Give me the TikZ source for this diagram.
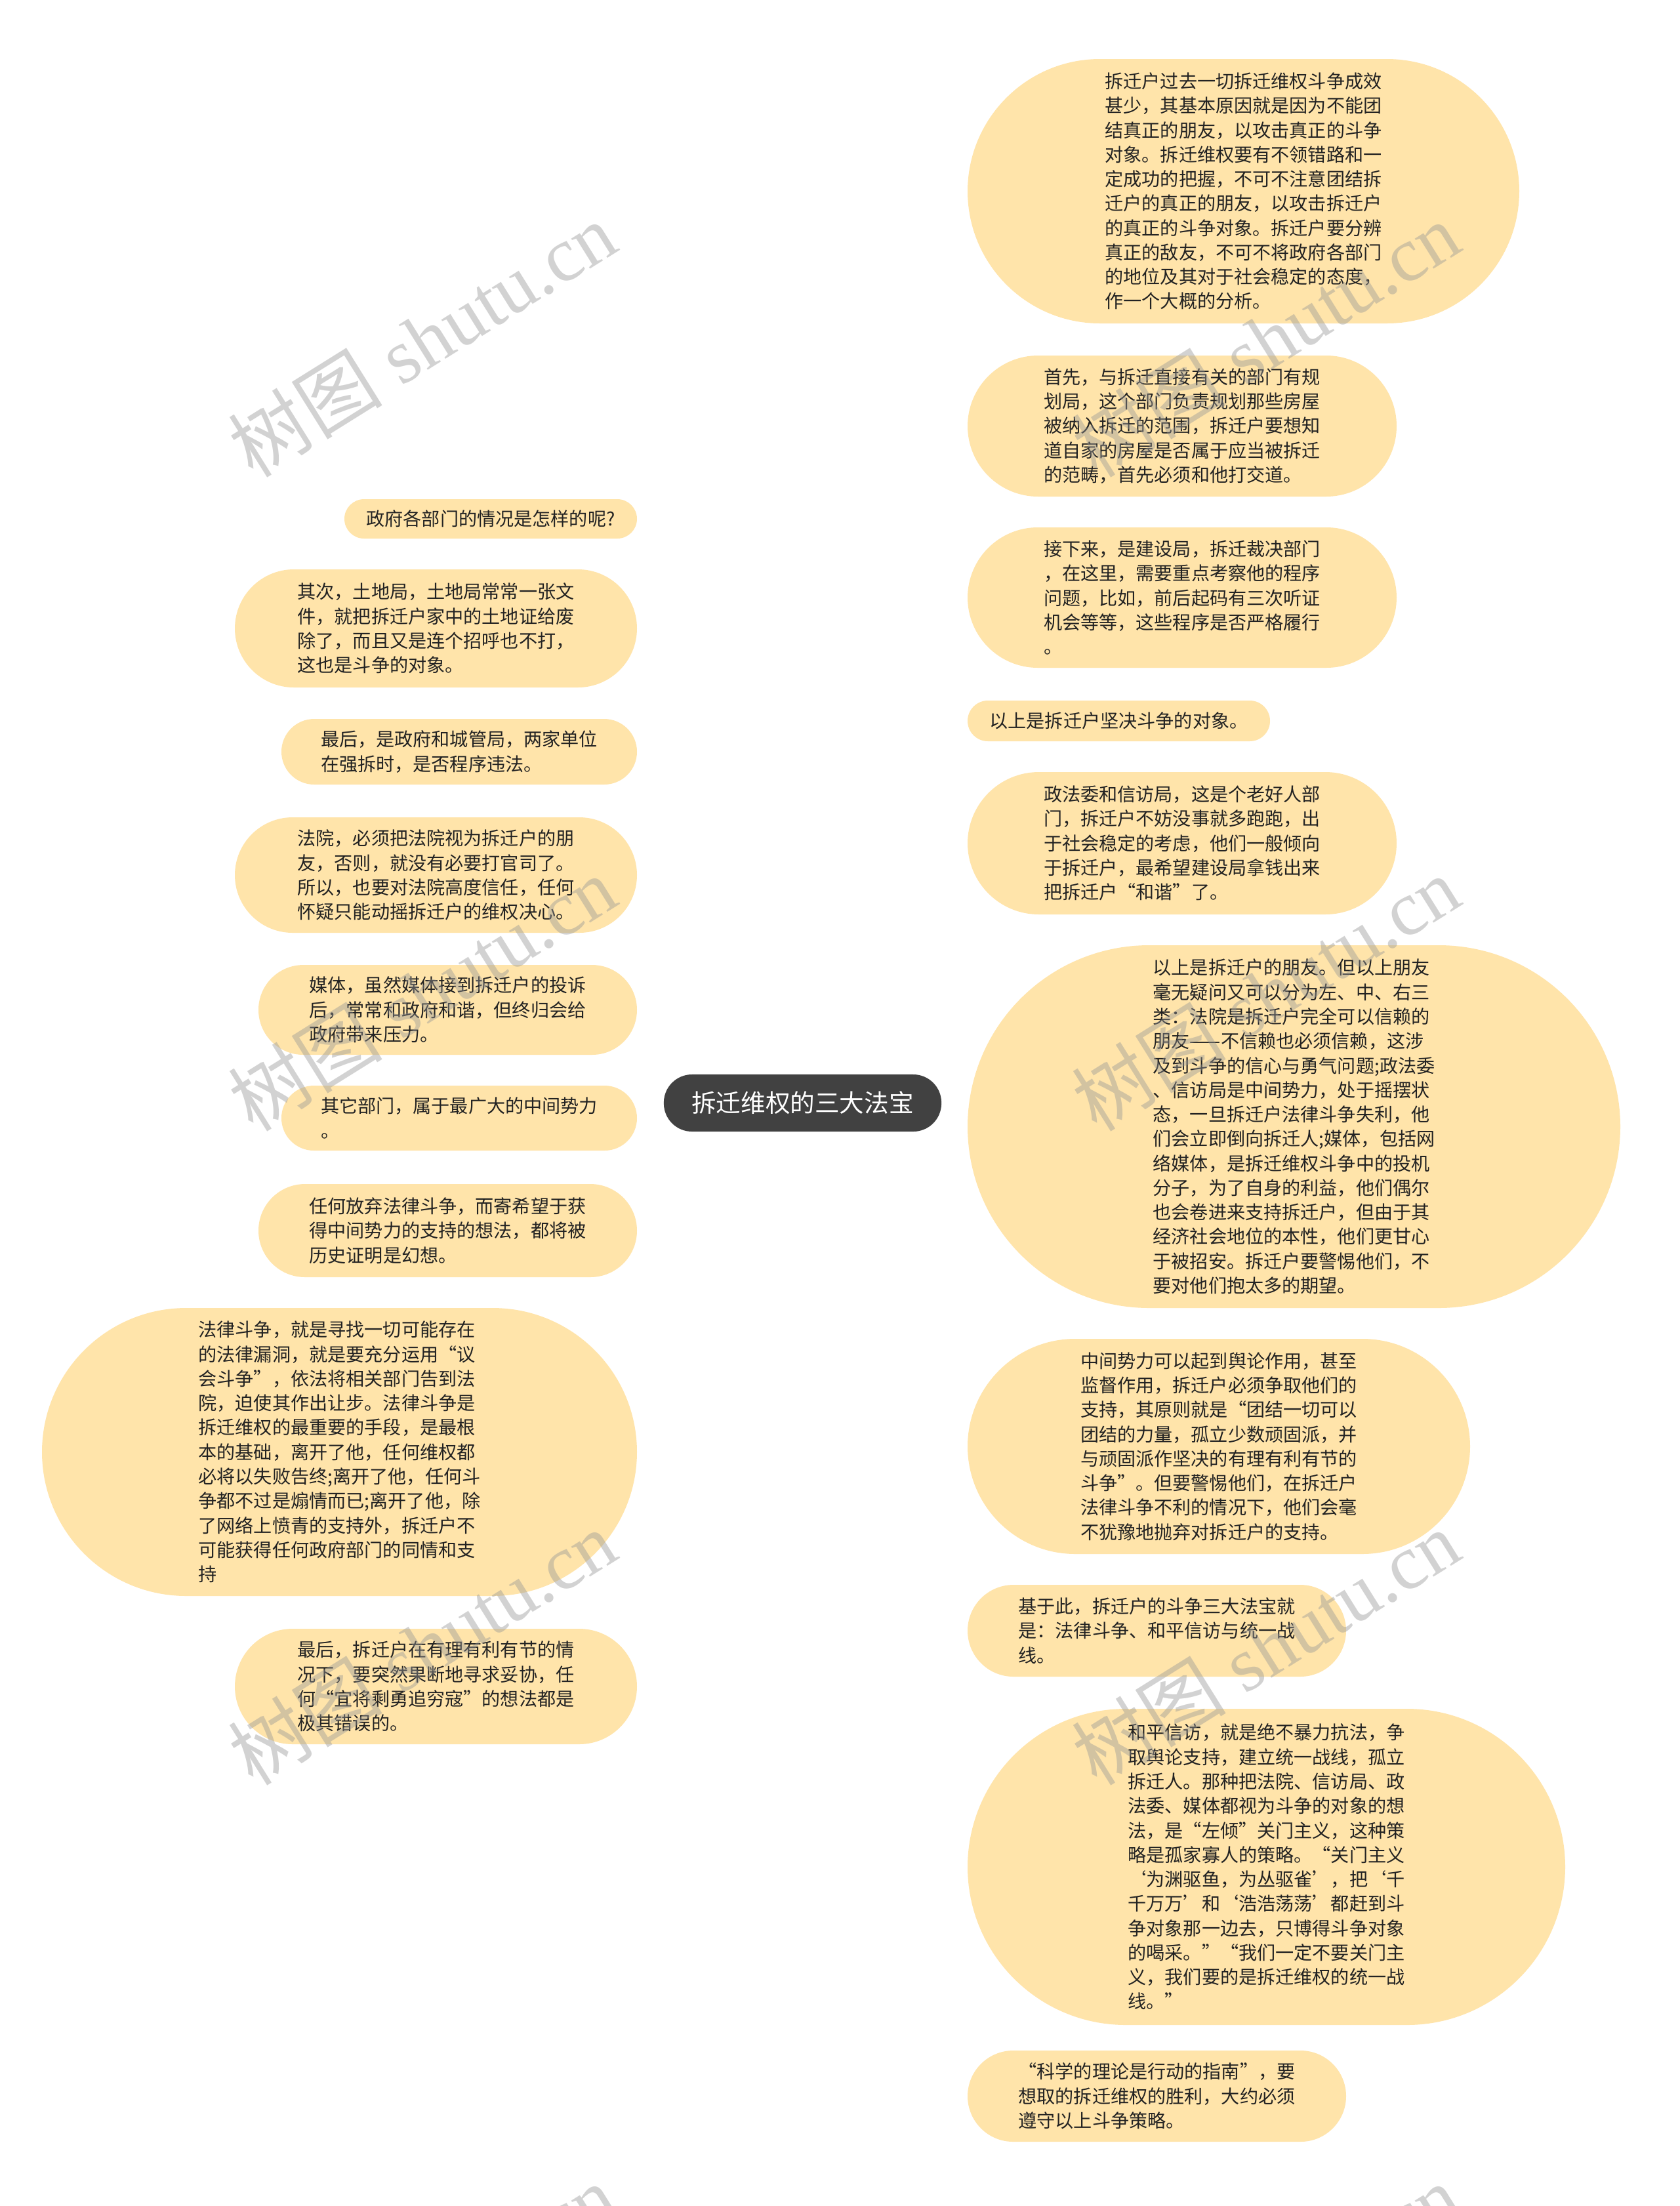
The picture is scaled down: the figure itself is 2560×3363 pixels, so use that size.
\documentclass[tikz,border=0pt]{standalone}
\usepackage{fontspec}
\newfontfamily\cjk{Noto Sans CJK SC}
\newfontfamily\wmserif{Liberation Serif}
\usetikzlibrary{calc}
\definecolor{leafc}{RGB}{255,228,170}
\definecolor{rootc}{RGB}{65,65,65}
\definecolor{edgec}{RGB}{80,80,80}
\definecolor{txtc}{RGB}{34,34,34}
\definecolor{wmc}{RGB}{150,150,150}
\pgfdeclarelayer{background}
\pgfdeclarelayer{foreground}
\pgfsetlayers{background,main,foreground}
\begin{document}
\begin{tikzpicture}[x=0.01cm,y=-0.01cm,
  leaf/.style 2 args={fill=leafc, draw=none, inner sep=0pt, align=left, text=txtc,
    font=\cjk\fontsize{8pt}{10.6pt}\selectfont,
    minimum width=#1*0.01cm, minimum height=#2*0.01cm, rounded corners=#2*0.005cm-0.02pt},
  rootbox/.style={fill=rootc, draw=none, inner sep=0pt, text=white,
    font=\cjk\fontsize{10.7pt}{12pt}\selectfont,
    minimum width=4.23cm, minimum height=0.87cm, rounded corners=0.43cm},
  edge/.style={draw=edgec, line width=0.63pt},
  wm/.style={text=wmc, text opacity=0.42, inner sep=0pt, font=\fontsize{33.5pt}{38pt}\selectfont}]
\useasboundingbox[fill=white] (0,0) rectangle (2560,3363);

\node[rootbox] (root) at (1223.5,1681.5) {拆迁维权的三大法宝};

% right side
\node[leaf={841}{403}] (r1) at (1895.5,291.5) {拆迁户过去一切拆迁维权斗争成效\\甚少，其基本原因就是因为不能团\\结真正的朋友，以攻击真正的斗争\\对象。拆迁维权要有不领错路和一\\定成功的把握，不可不注意团结拆\\迁户的真正的朋友，以攻击拆迁户\\的真正的斗争对象。拆迁户要分辨\\真正的敌友，不可不将政府各部门\\的地位及其对于社会稳定的态度，\\作一个大概的分析。};
\node[leaf={654}{215}] (r2) at (1802,649.5) {首先，与拆迁直接有关的部门有规\\划局，这个部门负责规划那些房屋\\被纳入拆迁的范围，拆迁户要想知\\道自家的房屋是否属于应当被拆迁\\的范畴，首先必须和他打交道。};
\node[leaf={654}{214}] (r3) at (1802,911) {接下来，是建设局，拆迁裁决部门\\，在这里，需要重点考察他的程序\\问题，比如，前后起码有三次听证\\机会等等，这些程序是否严格履行\\。};
\node[leaf={461}{62}] (r4) at (1705.5,1099) {以上是拆迁户坚决斗争的对象。};
\node[leaf={654}{217}] (r5) at (1802,1285.5) {政法委和信访局，这是个老好人部\\门，拆迁户不妨没事就多跑跑，出\\于社会稳定的考虑，他们一般倾向\\于拆迁户，最希望建设局拿钱出来\\把拆迁户“和谐”了。};
\node[leaf={995}{553}] (r6) at (1972.5,1717.5) {以上是拆迁户的朋友。但以上朋友\\毫无疑问又可以分为左、中、右三\\类：法院是拆迁户完全可以信赖的\\朋友——不信赖也必须信赖，这涉\\及到斗争的信心与勇气问题;政法委\\、信访局是中间势力，处于摇摆状\\态，一旦拆迁户法律斗争失利，他\\们会立即倒向拆迁人;媒体，包括网\\络媒体，是拆迁维权斗争中的投机\\分子，为了自身的利益，他们偶尔\\也会卷进来支持拆迁户，但由于其\\经济社会地位的本性，他们更甘心\\于被招安。拆迁户要警惕他们，不\\要对他们抱太多的期望。};
\node[leaf={766}{328}] (r7) at (1858,2205) {中间势力可以起到舆论作用，甚至\\监督作用，拆迁户必须争取他们的\\支持，其原则就是“团结一切可以\\团结的力量，孤立少数顽固派，并\\与顽固派作坚决的有理有利有节的\\斗争”。但要警惕他们，在拆迁户\\法律斗争不利的情况下，他们会毫\\不犹豫地抛弃对拆迁户的支持。};
\node[leaf={577}{140}] (r8) at (1763.5,2486) {基于此，拆迁户的斗争三大法宝就\\是：法律斗争、和平信访与统一战\\线。};
\node[leaf={911}{482}] (r9) at (1930.5,2846) {和平信访，就是绝不暴力抗法，争\\取舆论支持，建立统一战线，孤立\\拆迁人。那种把法院、信访局、政\\法委、媒体都视为斗争的对象的想\\法，是“左倾”关门主义，这种策\\略是孤家寡人的策略。“关门主义\\‘为渊驱鱼，为丛驱雀’，把‘千\\千万万’和‘浩浩荡荡’都赶到斗\\争对象那一边去，只博得斗争对象\\的喝采。”“我们一定不要关门主\\义，我们要的是拆迁维权的统一战\\线。”};
\node[leaf={577}{139}] (r10) at (1763.5,3195.5) {“科学的理论是行动的指南”，要\\想取的拆迁维权的胜利，大约必须\\遵守以上斗争策略。};

% left side
\node[leaf={446}{60}] (l1) at (748,791) {政府各部门的情况是怎样的呢?};
\node[leaf={613}{180}] (l2) at (664.5,958) {其次，土地局，土地局常常一张文\\件，就把拆迁户家中的土地证给废\\除了，而且又是连个招呼也不打，\\这也是斗争的对象。};
\node[leaf={542}{100}] (l3) at (700,1146) {最后，是政府和城管局，两家单位\\在强拆时，是否程序违法。};
\node[leaf={613}{176}] (l4) at (664.5,1334) {法院，必须把法院视为拆迁户的朋\\友，否则，就没有必要打官司了。\\所以，也要对法院高度信任，任何\\怀疑只能动摇拆迁户的维权决心。};
\node[leaf={577}{137}] (l5) at (682.5,1539.5) {媒体，虽然媒体接到拆迁户的投诉\\后，常常和政府和谐，但终归会给\\政府带来压力。};
\node[leaf={542}{99}] (l6) at (700,1704.5) {其它部门，属于最广大的中间势力\\。};
\node[leaf={577}{142}] (l7) at (682.5,1876) {任何放弃法律斗争，而寄希望于获\\得中间势力的支持的想法，都将被\\历史证明是幻想。};
\node[leaf={907}{439}] (l8) at (517.5,2213.5) {法律斗争，就是寻找一切可能存在\\的法律漏洞，就是要充分运用“议\\会斗争”，依法将相关部门告到法\\院，迫使其作出让步。法律斗争是\\拆迁维权的最重要的手段，是最根\\本的基础，离开了他，任何维权都\\必将以失败告终;离开了他，任何斗\\争都不过是煽情而已;离开了他，除\\了网络上愤青的支持外，拆迁户不\\可能获得任何政府部门的同情和支\\持};
\node[leaf={613}{176}] (l9) at (664.5,2571) {最后，拆迁户在有理有利有节的情\\况下，要突然果断地寻求妥协，任\\何“宜将剩勇追穷寇”的想法都是\\极其错误的。};

\begin{pgfonlayer}{background}
\foreach \n in {r1,r2,r3,r4,r5,r6,r7,r8,r9,r10}
  \draw[edge] (root.center) .. controls (root.center |- \n.west) and ($(root.center |- \n.west)!0.5!(\n.west)$) .. (\n.west);
\foreach \n in {l1,l2,l3,l4,l5,l6,l7,l8,l9}
  \draw[edge] (root.center) .. controls (root.center |- \n.east) and ($(root.center |- \n.east)!0.5!(\n.east)$) .. (\n.east);
\end{pgfonlayer}

\begin{pgfonlayer}{foreground}
\foreach \wx in {643,1929}
  \foreach \wy in {517,1514,2511,3508}
    \node[wm, rotate=32] at (\wx,\wy) {\cjk 树图\hspace{0.25em}\wmserif shutu.cn};
\end{pgfonlayer}
\end{tikzpicture}
\end{document}
